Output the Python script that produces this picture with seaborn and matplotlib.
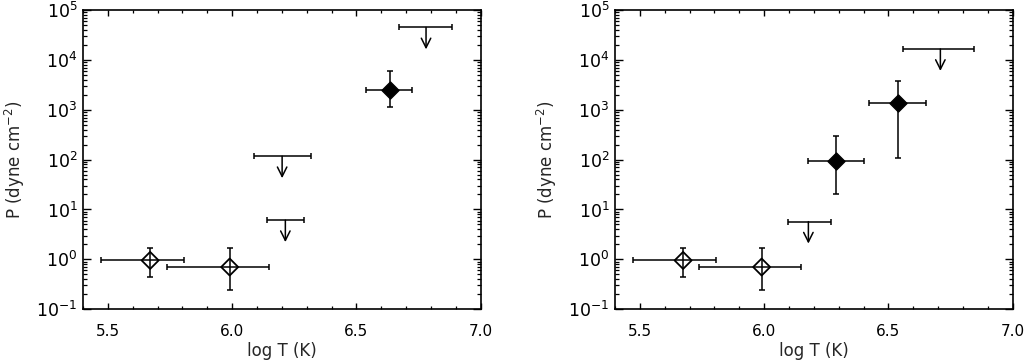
import matplotlib
matplotlib.use('Agg')
import matplotlib.pyplot as plt
import seaborn as sns
import pandas as pd
from matplotlib.ticker import MultipleLocator, FormatStrFormatter, FixedLocator, LogLocator

# left panel: measured points
l_logT = [5.67, 5.99, 6.637]
l_xlo = [5.473, 5.736, 6.540]
l_xhi = [5.806, 6.147, 6.724]
l_P = [0.95, 0.70, 2500]
l_Plo = [0.45, 0.24, 1130]
l_Phi = [1.71, 1.66, 6100]
l_filled = [False, False, True]
# left panel: upper limits
l_ul_logT = [6.201, 6.214, 6.780]
l_ul_xlo = [6.087, 6.141, 6.670]
l_ul_xhi = [6.318, 6.288, 6.885]
l_ul_P = [117, 6.1, 45000]

# right panel: measured points
r_logT = [5.674, 5.99, 6.291, 6.539]
r_xlo = [5.473, 5.736, 6.175, 6.422]
r_xhi = [5.806, 6.147, 6.402, 6.652]
r_P = [0.95, 0.70, 95, 1360]
r_Plo = [0.45, 0.24, 20, 108]
r_Phi = [1.71, 1.66, 302, 3860]
r_filled = [False, False, True, True]
# right panel: upper limits
r_ul_logT = [6.178, 6.709]
r_ul_xlo = [6.095, 6.559]
r_ul_xhi = [6.267, 6.844]
r_ul_P = [5.7, 16600]

yticks = [1e-1, 1e0, 1e1, 1e2, 1e3, 1e4, 1e5]

sns.set_style('ticks')
plt.rcParams['font.family'] = ['DejaVu Sans']

fig = plt.figure(figsize=(10.25, 3.62), dpi=100)
ax1 = fig.add_axes([0.081, 0.146, 0.388, 0.826])
ax2 = fig.add_axes([0.600, 0.146, 0.388, 0.826])

LW = 1.1


def draw(ax, x, xlo, xhi, p, plo, phi, filled, ux, uxlo, uxhi, up):
    df = pd.DataFrame({'logT': x, 'P': p, 'filled': filled})
    xerr = [[a - b for a, b in zip(x, xlo)], [b - a for a, b in zip(x, xhi)]]
    yerr = [[a - b for a, b in zip(p, plo)], [b - a for a, b in zip(p, phi)]]
    ax.errorbar(x, p, xerr=xerr, yerr=yerr, fmt='none', ecolor='black',
                elinewidth=LW, capsize=2.2, capthick=LW, zorder=2)
    op = df[~df['filled']]
    fl = df[df['filled']]
    sns.scatterplot(data=op, x='logT', y='P', marker='D', s=75,
                    facecolor='none', edgecolor='black', linewidth=1.3,
                    ax=ax, zorder=3)
    sns.scatterplot(data=fl, x='logT', y='P', marker='D', s=75,
                    color='black', edgecolor='black', linewidth=1.0,
                    ax=ax, zorder=3)
    # upper limits
    uxerr = [[a - b for a, b in zip(ux, uxlo)], [b - a for a, b in zip(ux, uxhi)]]
    ax.errorbar(ux, up, xerr=uxerr, fmt='none', ecolor='black',
                elinewidth=LW, capsize=2.2, capthick=LW)
    for xx, yy in zip(ux, up):
        ax.annotate('', xy=(xx, yy / 10 ** 0.44), xytext=(xx, yy),
                    arrowprops=dict(arrowstyle='->', lw=LW, color='black',
                                    mutation_scale=17, shrinkA=0, shrinkB=0))

    ax.set_yscale('log')
    ax.set_xlim(5.4, 7.0)
    ax.set_ylim(1e-1, 1e5)
    ax.yaxis.set_major_locator(FixedLocator(yticks))
    ax.yaxis.set_minor_locator(LogLocator(base=10, subs=range(2, 10), numticks=20))
    ax.xaxis.set_major_locator(MultipleLocator(0.5))
    ax.xaxis.set_minor_locator(MultipleLocator(0.1))
    ax.xaxis.set_major_formatter(FormatStrFormatter('%.1f'))
    ax.tick_params(which='both', direction='in', top=True, right=True,
                   colors='black')
    ax.tick_params(axis='x', which='major', length=4.5, width=1.0,
                   labelsize=11, pad=11)
    ax.tick_params(axis='x', which='minor', length=2.3, width=0.9)
    ax.tick_params(axis='y', which='major', length=6, width=1.0,
                   labelsize=12.5, pad=4)
    ax.tick_params(axis='y', which='minor', length=3.2, width=0.9)
    for s in ax.spines.values():
        s.set_linewidth(1.2)
        s.set_color('black')
    ax.set_xlabel('log T (K)', fontsize=12)
    ax.set_ylabel('P (dyne cm$^{-2}$)', fontsize=12)
    ax.xaxis.set_label_coords(0.5, -0.11)
    ax.yaxis.set_label_coords(-0.14, 0.5)


draw(ax1, l_logT, l_xlo, l_xhi, l_P, l_Plo, l_Phi, l_filled,
     l_ul_logT, l_ul_xlo, l_ul_xhi, l_ul_P)
draw(ax2, r_logT, r_xlo, r_xhi, r_P, r_Plo, r_Phi, r_filled,
     r_ul_logT, r_ul_xlo, r_ul_xhi, r_ul_P)

fig.savefig('out.png', dpi=100)
